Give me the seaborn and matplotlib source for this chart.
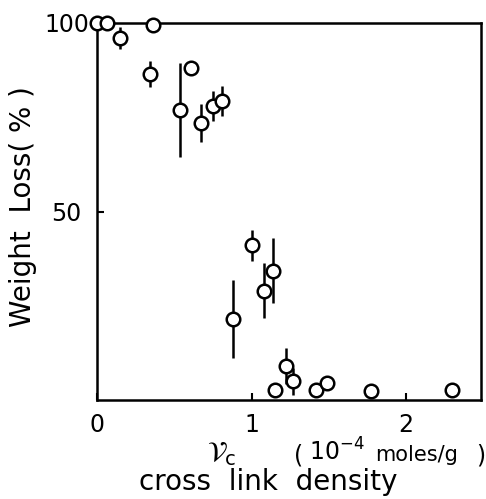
import matplotlib
matplotlib.use("Agg")
import matplotlib.pyplot as plt
import seaborn as sns
import pandas as pd

# data
crosslink = [0.00, 0.065, 0.15, 0.36, 0.34, 0.61, 0.54, 0.67, 0.75, 0.81, 1.00,
             1.14, 1.08, 0.88, 1.22, 1.27, 1.15, 1.42, 1.49, 1.77, 2.30]
weight_loss = [100, 100, 96, 99.5, 86.5, 88, 77, 73.5, 78, 79.3, 41,
               34.3, 29, 21.5, 9, 5, 2.6, 2.6, 4.5, 2.4, 2.6]
error = [0, 0, 3, 0, 3.5, 0, 12.5, 5, 4, 4, 4,
         8.7, 7.3, 10.3, 4.8, 3.6, 0, 0, 0, 0, 0]
x_ticks = [0, 1, 2]
y_ticks = [50, 100]

df = pd.DataFrame({"x": crosslink, "y": weight_loss, "err": error})

sns.set_style("ticks")
plt.rcParams['font.family'] = ['DejaVu Sans']
plt.rcParams['text.color'] = 'black'
plt.rcParams['axes.labelcolor'] = 'black'
plt.rcParams['xtick.color'] = 'black'
plt.rcParams['ytick.color'] = 'black'
plt.rcParams['axes.edgecolor'] = 'black'

fig = plt.figure(figsize=(4.86, 4.99), dpi=100)
ax = fig.add_axes([97/486, 1-400/499, (481-97)/486, (400-23)/499])

ax.errorbar(df["x"], df["y"], yerr=df["err"], fmt="none", ecolor="black",
            elinewidth=1.8, capsize=0, zorder=2, clip_on=False)
sns.scatterplot(data=df, x="x", y="y", ax=ax, s=95, facecolor="white",
                edgecolor="black", linewidth=1.8, zorder=3, clip_on=False)

ax.set_xlim(0, 2.485)
ax.set_ylim(0, 100)
ax.set_xticks(x_ticks)
ax.set_yticks(y_ticks)
ax.set_xticklabels([str(t) for t in x_ticks])
ax.set_yticklabels([str(t) for t in y_ticks], ha="center")
ax.tick_params(direction="in", length=5, width=1.5, labelsize=17,
               colors="black")
ax.tick_params(axis="x", pad=9)
ax.tick_params(axis="y", pad=22)
for s in ax.spines.values():
    s.set_linewidth(1.8)
ax.set_xlabel("")
ax.set_ylabel("Weight  Loss( % )", fontsize=20, labelpad=0)
ax.yaxis.set_label_coords(-0.155, 0.512)

y1 = 1 - 461/499
fig.text(207/486, y1, r"$\mathcal{V}_\mathrm{c}$", fontsize=20, va="baseline", ha="left")
fig.text(294/486, y1 - 0.004, "(", fontsize=17, va="baseline", ha="left")
fig.text(309/486, y1, r"10$^{-4}$", fontsize=17, va="baseline", ha="left")
fig.text(375/486, y1, "moles/g", fontsize=15, va="baseline", ha="left")
fig.text(476/486, y1 - 0.004, ")", fontsize=17, va="baseline", ha="left")
fig.text(268/486, 1-490/499, "cross  link  density", fontsize=20, va="baseline", ha="center")

fig.savefig("out.png", dpi=100)
